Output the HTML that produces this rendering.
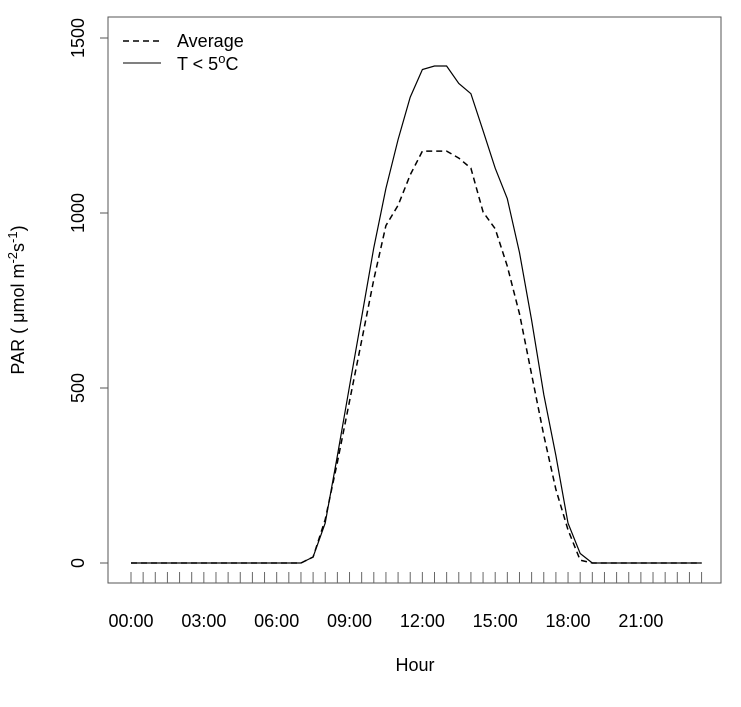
<!DOCTYPE html>
<html><head><meta charset="utf-8"><style>
html,body{margin:0;padding:0;background:#fff}
svg{display:block;font-family:"Liberation Sans",Arial,sans-serif}
</style></head><body>
<svg id="chart" width="741" height="707" viewBox="0 0 741 707" xmlns="http://www.w3.org/2000/svg">
<rect x="108" y="17" width="613" height="566" fill="none" stroke="#555" stroke-width="1"/>
<g id="yaxis"></g>
<g id="xaxis"></g>
<g id="series"></g>
<text x="24" y="300" transform="rotate(-90 24 300)" text-anchor="middle" font-size="18" fill="#000">PAR ( μmol m<tspan dy="-7" font-size="13">-2</tspan><tspan dy="7">s</tspan><tspan dy="-7" font-size="13">-1</tspan><tspan dy="7">)</tspan></text>
<text x="415" y="671" text-anchor="middle" font-size="18" fill="#000">Hour</text>
<g>
<line x1="123" y1="41" x2="161" y2="41" stroke="#000" stroke-width="1.5" stroke-dasharray="6,4"/>
<text x="177" y="47" font-size="18">Average</text>
<line x1="123" y1="63" x2="161" y2="63" stroke="#000" stroke-width="1"/>
<text x="177" y="70" font-size="18">T &lt; 5<tspan dy="-7" font-size="13">o</tspan><tspan dy="7">C</tspan></text>
</g>
</svg>
<script>
const yTicks = [0, 500, 1000, 1500];
const xLabels = ["00:00","03:00","06:00","09:00","12:00","15:00","18:00","21:00"];
const avgValues = [0,0,0,0,0,0,0,0,0,0,0,0,0,0,0,17,124,288,462,636,810,964,1022,1109,1177,1177,1177,1157,1128,1003,955,848,712,539,365,210,95,8,0,0,0,0,0,0,0,0,0,0];
const coldValues = [0,0,0,0,0,0,0,0,0,0,0,0,0,0,0,17,114,307,505,703,901,1070,1210,1331,1410,1420,1420,1370,1341,1235,1128,1041,887,694,481,307,114,27,0,0,0,0,0,0,0,0,0,0];
const NS = "http://www.w3.org/2000/svg";
function xs(i){ return 131 + i * 12.14; }
function ys(v){ return 563 - v * 0.35; }
function mk(tag, attrs, parent){
  const e = document.createElementNS(NS, tag);
  for (const k in attrs) e.setAttribute(k, attrs[k]);
  parent.appendChild(e);
  return e;
}
const ya = document.getElementById('yaxis');
yTicks.forEach(function(t){
  const l = mk('line', {x1:100, x2:108, y1:ys(t), y2:ys(t), stroke:'#555'}, ya);
  
  
  const tx = mk('text', {x:0, y:0, 'text-anchor':'middle', 'font-size':18, transform:'translate(84 '+ys(t)+') rotate(-90)'}, ya);
  tx.textContent = t;
  
  
});
const xa = document.getElementById('xaxis');
for (let i = 0; i < 48; i++){
  const l = mk('line', {x1:xs(i), x2:xs(i), y1:572, y2:583, stroke:'#666'}, xa);
  
  
}
xLabels.forEach(function(s, k){
  const tx = mk('text', {x:xs(k*6), y:627, 'text-anchor':'middle', 'font-size':18}, xa);
  tx.textContent = s;
  
  
});
const sg = document.getElementById('series');
function pts(arr){ return arr.map(function(v,i){ return xs(i).toFixed(1)+','+ys(v).toFixed(1); }).join(' '); }
const p1 = mk('polyline', {points:pts(coldValues), fill:'none', stroke:'#000', 'stroke-width':1.2}, sg);


const p2 = mk('polyline', {points:pts(avgValues), fill:'none', stroke:'#000', 'stroke-width':1.5, 'stroke-dasharray':'6,4'}, sg);


</script>
</body></html>
